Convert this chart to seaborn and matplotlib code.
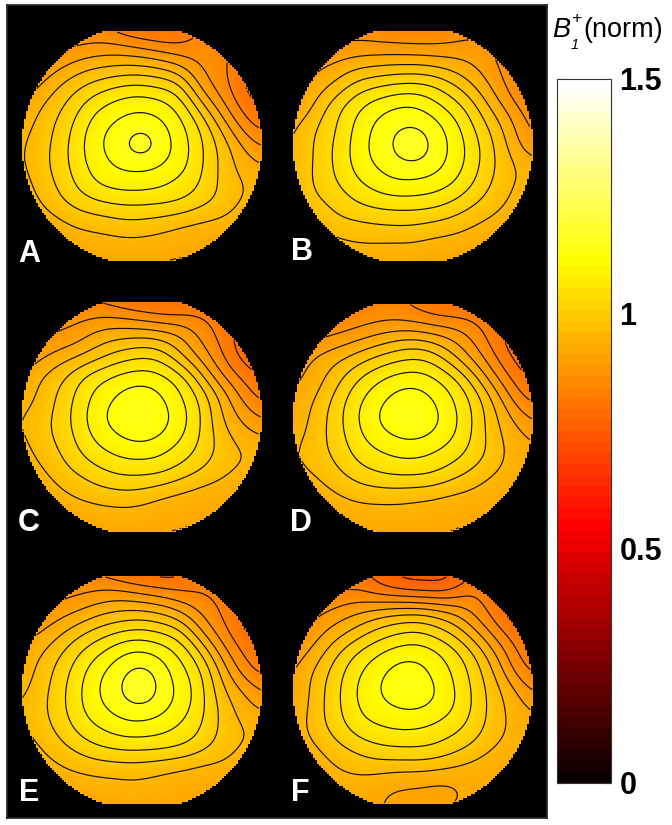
import numpy as np
import matplotlib
matplotlib.use('Agg')
from matplotlib import pyplot as plt
from matplotlib.cm import ScalarMappable
from matplotlib.colors import Normalize
import matplotlib.tri as mtri
import seaborn as sns

# B1+ fields, rows top to bottom, nodes every 20 px across each disc
panel_a = [
    [.83, .84, .845, .85, .84, .80, .785, .785, .80, .84, .84, .82, .80],
    [.85, .86, .87, .875, .885, .88, .862, .845, .84, .855, .85, .83, .80],
    [.87, .885, .91, .94, .953, .96, .96, .945, .915, .875, .85, .81, .78],
    [.89, .92, .965, .995, 1.02, 1.038, 1.042, 1.03, 1.00, .90, .86, .80, .77],
    [.91, .96, .995, 1.04, 1.078, 1.10, 1.11, 1.095, 1.06, .97, .89, .825, .79],
    [.94, .975, 1.015, 1.065, 1.11, 1.135, 1.15, 1.13, 1.09, 1.03, .945, .865, .82],
    [.95, .982, 1.024, 1.076, 1.122, 1.155, 1.19, 1.145, 1.10, 1.045, .985, .92, .87],
    [.95, .985, 1.025, 1.07, 1.108, 1.13, 1.135, 1.12, 1.095, 1.045, .99, .945, .92],
    [.94, .975, 1.012, 1.055, 1.085, 1.095, 1.095, 1.085, 1.065, 1.035, .99, .965, .94],
    [.93, .96, .99, 1.015, 1.03, 1.04, 1.04, 1.038, 1.03, 1.005, .985, .955, .93],
    [.91, .93, .95, .968, .975, .985, .985, .975, .96, .95, .945, .93, .91],
    [.90, .91, .925, .935, .94, .945, .945, .94, .935, .93, .92, .91, .90],
    [.89, .90, .905, .91, .91, .91, .91, .91, .905, .90, .90, .89, .88],
]
panel_b = [
    [.83, .84, .85, .86, .85, .83, .83, .83, .84, .86, .85, .83, .81],
    [.85, .865, .875, .885, .885, .885, .88, .88, .885, .89, .875, .84, .80],
    [.87, .905, .925, .945, .955, .96, .962, .955, .94, .92, .89, .85, .80],
    [.895, .935, .96, 1.007, 1.03, 1.045, 1.05, 1.04, 1.005, .96, .91, .86, .81],
    [.91, .955, 1.015, 1.06, 1.095, 1.115, 1.122, 1.095, 1.06, 1.012, .945, .89, .835],
    [.945, .99, 1.03, 1.08, 1.122, 1.15, 1.16, 1.14, 1.098, 1.042, .985, .925, .86],
    [.95, 1.00, 1.04, 1.088, 1.13, 1.165, 1.195, 1.155, 1.112, 1.06, 1.005, .94, .88],
    [.96, 1.00, 1.04, 1.085, 1.12, 1.145, 1.155, 1.14, 1.105, 1.06, 1.005, .965, .935],
    [.96, 1.002, 1.03, 1.065, 1.09, 1.11, 1.11, 1.10, 1.08, 1.04, .995, .96, .94],
    [.95, .985, 1.005, 1.03, 1.048, 1.055, 1.055, 1.05, 1.03, 1.002, .975, .95, .93],
    [.93, .95, .985, .99, .995, 1.00, 1.00, .99, .98, .962, .945, .93, .91],
    [.91, .925, .94, .955, .958, .955, .955, .945, .94, .93, .92, .91, .90],
    [.89, .90, .91, .915, .915, .915, .915, .915, .91, .905, .90, .89, .88],
]
panel_c = [
    [.82, .825, .83, .83, .82, .79, .775, .775, .78, .80, .80, .78, .76],
    [.84, .85, .86, .865, .875, .87, .855, .84, .84, .835, .815, .79, .76],
    [.86, .875, .885, .91, .94, .95, .955, .945, .92, .87, .825, .78, .75],
    [.885, .91, .94, .96, .99, 1.02, 1.035, 1.02, .96, .90, .845, .785, .76],
    [.91, .96, .99, 1.036, 1.068, 1.09, 1.10, 1.088, 1.05, .965, .88, .83, .79],
    [.935, .97, 1.012, 1.06, 1.10, 1.13, 1.145, 1.122, 1.083, 1.025, .945, .87, .82],
    [.955, .982, 1.02, 1.07, 1.118, 1.145, 1.16, 1.14, 1.097, 1.04, .96, .91, .865],
    [.95, .985, 1.015, 1.06, 1.10, 1.125, 1.138, 1.12, 1.085, 1.035, .98, .94, .92],
    [.94, .97, 1.00, 1.04, 1.068, 1.085, 1.09, 1.08, 1.055, 1.022, .985, .965, .945],
    [.93, .95, .98, 1.00, 1.025, 1.04, 1.04, 1.035, 1.01, .985, .965, .945, .93],
    [.91, .925, .95, .97, .98, .985, .98, .962, .95, .94, .935, .925, .91],
    [.90, .91, .92, .93, .94, .945, .94, .935, .93, .925, .92, .91, .90],
    [.89, .90, .905, .91, .912, .912, .912, .912, .91, .905, .90, .89, .88],
]
panel_d = [
    [.80, .81, .815, .82, .835, .84, .83, .80, .785, .79, .79, .77, .75],
    [.83, .835, .84, .85, .865, .87, .86, .845, .84, .83, .81, .785, .76],
    [.86, .87, .885, .905, .925, .945, .955, .94, .915, .875, .82, .78, .75],
    [.885, .92, .945, .97, 1.00, 1.025, 1.04, 1.025, .97, .91, .85, .795, .76],
    [.905, .935, .975, 1.025, 1.065, 1.09, 1.10, 1.085, 1.05, .98, .895, .83, .785],
    [.92, .955, 1.002, 1.058, 1.098, 1.13, 1.145, 1.12, 1.082, 1.03, .955, .87, .82],
    [.93, .967, 1.015, 1.068, 1.115, 1.145, 1.16, 1.137, 1.095, 1.04, .975, .918, .865],
    [.94, .975, 1.012, 1.058, 1.095, 1.118, 1.128, 1.112, 1.083, 1.037, .98, .94, .915],
    [.95, .98, 1.00, 1.04, 1.065, 1.078, 1.083, 1.072, 1.052, 1.02, .985, .945, .925],
    [.93, .955, .98, 1.005, 1.025, 1.035, 1.035, 1.03, 1.005, .98, .955, .935, .92],
    [.91, .93, .95, .965, .97, .97, .965, .96, .95, .945, .935, .92, .91],
    [.90, .91, .925, .935, .94, .942, .94, .935, .93, .925, .92, .91, .90],
    [.89, .90, .91, .915, .918, .918, .918, .915, .91, .905, .90, .89, .88],
]
panel_e = [
    [.81, .82, .825, .83, .82, .78, .765, .765, .775, .81, .81, .78, .76],
    [.84, .85, .86, .87, .88, .88, .86, .845, .835, .835, .82, .795, .76],
    [.865, .88, .90, .92, .945, .958, .96, .945, .91, .87, .835, .79, .76],
    [.895, .915, .95, .985, 1.015, 1.035, 1.045, 1.03, 1.00, .91, .855, .80, .77],
    [.92, .955, .995, 1.04, 1.075, 1.11, 1.12, 1.10, 1.065, .99, .895, .835, .795],
    [.93, .975, 1.02, 1.07, 1.115, 1.15, 1.175, 1.14, 1.092, 1.04, .945, .865, .82],
    [.945, .985, 1.03, 1.082, 1.128, 1.165, 1.195, 1.15, 1.107, 1.053, .97, .92, .87],
    [.96, .99, 1.03, 1.078, 1.113, 1.14, 1.15, 1.13, 1.098, 1.05, .99, .945, .915],
    [.95, .98, 1.015, 1.055, 1.08, 1.098, 1.10, 1.09, 1.07, 1.037, .99, .965, .945],
    [.93, .96, .985, 1.012, 1.032, 1.042, 1.042, 1.04, 1.03, 1.005, .98, .955, .935],
    [.91, .935, .955, .965, .972, .975, .975, .965, .955, .945, .945, .93, .91],
    [.90, .91, .925, .935, .94, .945, .945, .94, .935, .93, .92, .91, .90],
    [.89, .90, .905, .91, .912, .912, .91, .91, .905, .90, .90, .89, .88],
]
panel_f = [
    [.78, .79, .80, .81, .79, .75, .74, .74, .75, .79, .78, .75, .73],
    [.80, .815, .83, .84, .82, .80, .785, .78, .795, .835, .80, .77, .74],
    [.835, .86, .885, .905, .92, .935, .94, .93, .905, .87, .82, .775, .75],
    [.87, .895, .93, .962, 1.00, 1.025, 1.04, 1.02, .985, .925, .86, .81, .77],
    [.89, .925, .98, 1.028, 1.063, 1.09, 1.10, 1.087, 1.05, .995, .92, .85, .795],
    [.91, .96, 1.012, 1.062, 1.10, 1.13, 1.14, 1.11, 1.076, 1.025, .96, .875, .825],
    [.91, .972, 1.022, 1.076, 1.113, 1.142, 1.155, 1.128, 1.086, 1.035, .98, .928, .865],
    [.92, .975, 1.022, 1.07, 1.10, 1.115, 1.122, 1.108, 1.082, 1.035, .983, .945, .915],
    [.93, .975, 1.01, 1.05, 1.07, 1.08, 1.08, 1.07, 1.05, 1.02, .98, .95, .93],
    [.92, .95, .98, 1.003, 1.025, 1.033, 1.035, 1.03, 1.01, .985, .955, .94, .925],
    [.91, .925, .955, .965, .97, .965, .965, .96, .95, .94, .935, .925, .91],
    [.90, .91, .93, .94, .93, .915, .91, .905, .91, .93, .925, .91, .90],
    [.89, .90, .91, .92, .925, .92, .925, .93, .93, .925, .91, .895, .885],
]
panels = [panel_a, panel_b, panel_c, panel_d, panel_e, panel_f]
panel_names = ['A', 'B', 'C', 'D', 'E', 'F']
contour_levels = [.76, .80, .84, .88, .92, .96, 1.00, 1.04, 1.08, 1.12, 1.16]
cbar_ticks = [0, 0.5, 1, 1.5]
cbar_ticklabels = ['0', '0.5', '1', '1.5']

# layout in pixels of the 672x825 picture
W, H = 672, 825
R = 120
disc_x = [141.7, 412.7, 141.7, 412.7, 141.7, 413.3]
disc_y = [145, 145, 415.7, 417.7, 690, 690]
cut_top = [30.7, 30.7, 301, 304, 575.7, 575.7]
cut_bot = [261.7, 261.7, 531.7, 532.3, 804.3, 804.3]
label_x = [29, 302, 29, 301, 29, 300]
label_y = [254, 252, 523, 523, 793, 793]

sns.set_theme(style='white')
plt.rcParams['font.family'] = ['Liberation Sans', 'DejaVu Sans']


def box(x0, y0, x1, y1):
    return [x0 / W, 1 - y1 / H, (x1 - x0) / W, (y1 - y0) / H]


def soften(z, sigma):
    # takes the grid wobble out of the cubic surface
    t = np.arange(-3 * sigma, 3 * sigma + 1)
    g = np.exp(-t**2 / (2 * sigma**2))
    g = g / g.sum()
    z = np.pad(z, 3 * sigma, mode='edge')
    z = np.apply_along_axis(np.convolve, 0, z, g, mode='same')
    z = np.apply_along_axis(np.convolve, 1, z, g, mode='same')
    return z[3 * sigma:-3 * sigma, 3 * sigma:-3 * sigma]


fig = plt.figure(figsize=(W / 100, H / 100), dpi=100)
back = fig.add_axes(box(7, 5, 547, 818), facecolor='black')
back.set_xticks([])
back.set_yticks([])
cax = fig.add_axes(box(556.5, 79, 611, 783))

N = 120
nodes = np.linspace(-1, 1, 13)
nx, ny = np.meshgrid(nodes, nodes)
triang = mtri.Triangulation(nx.ravel(), ny.ravel())
fine = (np.arange(N) + .5) / N * 2 - 1
fx, fy = np.meshgrid(fine, fine)

for k in range(6):
    ax = fig.add_axes(box(disc_x[k] - R, disc_y[k] - R, disc_x[k] + R, disc_y[k] + R))
    ax.set_facecolor('black')
    interp = mtri.CubicTriInterpolator(triang, np.array(panels[k]).ravel(), kind='min_E')
    field = soften(np.asarray(interp(fx, fy)), 5)
    py = disc_y[k] + fy * R
    mask = (fx**2 + fy**2 > 1) | (py < cut_top[k]) | (py > cut_bot[k])
    sns.heatmap(field, mask=mask, cmap='hot', vmin=0, vmax=1.5, ax=ax, cbar=False, xticklabels=False, yticklabels=False)
    cells = np.arange(N) + .5
    ax.contour(cells, cells, np.ma.array(field, mask=mask), levels=contour_levels, colors='#151000', linewidths=.85)
    fig.text(label_x[k] / W, 1 - label_y[k] / H, panel_names[k], color='white', fontsize=22, fontweight='bold',
             ha='center', va='center')

cbar = fig.colorbar(ScalarMappable(Normalize(0, 1.5), plt.get_cmap('hot', 64)), cax=cax, ticks=cbar_ticks)
cax.set_yticklabels(cbar_ticklabels, fontsize=22, fontweight='bold', color='black')
cax.yaxis.set_ticks_position('both')
cax.tick_params(axis='y', direction='in', length=5, width=.8, color='#402010', pad=6, labelleft=False, labelright=True)
cbar.outline.set_linewidth(.8)
cbar.outline.set_edgecolor('#333333')

fig.text(552 / W, 1 - 37 / H, 'B', fontsize=19.5, style='italic', color='black', ha='left', va='baseline')
fig.text(571 / W, 1 - 23 / H, '+', fontsize=12.5, color='black', ha='left', va='baseline')
fig.text(571 / W, 1 - 49 / H, '1', fontsize=10.5, style='italic', color='black', ha='left', va='baseline')
fig.text(583 / W, 1 - 37 / H, '(norm)', fontsize=19.5, color='black', ha='left', va='baseline')

plt.savefig('out.png', dpi=100)
